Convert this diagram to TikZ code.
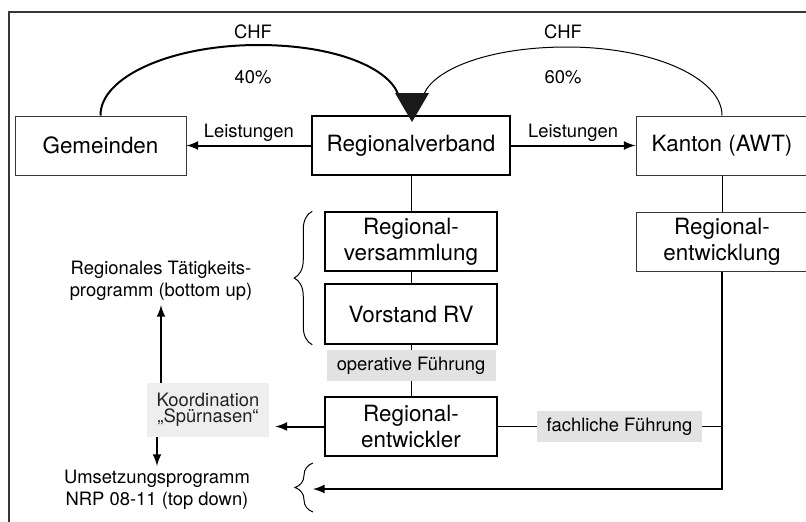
\documentclass[tikz,border=0pt]{standalone}
\usepackage{fontspec}
\setmainfont{TeX Gyre Heros}
\usepackage{tikz}
\usetikzlibrary{positioning,decorations.pathreplacing}
\tikzstyle{plan} = [x = 0.5pt, y = -0.5pt]
\definecolor{frameColor}{RGB}{55,55,55}
\definecolor{labelColor}{RGB}{226,226,226}
\definecolor{koordColor}{RGB}{238,238,238}
\definecolor{koordText}{RGB}{35,35,35}
\newcommand{\boxFont}{\fontsize{11.2}{13}\selectfont}
\newcommand{\smallFont}{\fontsize{9.2}{11}\selectfont}
\tikzstyle{boxStyle} = [draw, fill=white, align=center, inner sep=0pt, minimum width=86pt, minimum height=29.5pt, font=\boxFont]
\tikzstyle{innerBox} = [boxStyle, line width=.75pt]
\tikzstyle{outerBox} = [boxStyle, line width=.5pt, draw=frameColor]
\tikzstyle{greyLabel} = [fill=labelColor, inner sep=0pt, minimum height=15.5pt, font=\smallFont]
\tikzstyle{sideText} = [align=center, inner sep=2pt, font=\smallFont]
\tikzstyle{thinLine} = [line width=.5pt]
\tikzstyle{arrowLine} = [line width=1pt, -latex]
\tikzstyle{labelAbove} = [above, inner sep=1.5pt, font=\smallFont]
\tikzstyle{braceLine} = [line width=.5pt, decorate, decoration={brace, amplitude=9pt}]

\begin{document}
\begin{tikzpicture}[plan]
  \useasboundingbox (0,0) rectangle (806,521);
  \clip (0,0) rectangle (806,521);
  \draw[line width=1pt, frameColor] (8.5,530) -- (8.5,11.5) -- (815,11.5);

  \node[outerBox, minimum width=85.5pt] (gemeinden) at (100.5,145.5) {Gemeinden};
  \node[innerBox, minimum width=99pt] (verband) at (411,145.5) {Regionalverband};
  \node[outerBox] (kanton) at (722,145.5) {Kanton (AWT)};
  \node[innerBox] (versammlung) at (411,241.5) {Regional-\\versammlung};
  \node[innerBox, minimum height=30pt] (vorstand) at (411,314) {Vorstand RV};
  \node[greyLabel, minimum width=84.5pt] (operativ) at (411,365.5) {operative Führung};
  \node[innerBox] (entwickler) at (411,426.5) {Regional-\\entwickler};
  \node[outerBox] (entwicklung) at (722,241.5) {Regional-\\entwicklung};
  \node[greyLabel, minimum width=82.5pt] (fachlich) at (619.5,426.5) {fachliche Führung};
  \node[sideText] (taetigkeit) at (161,281) {Regionales Tätigkeits-\\programm (bottom up)};
  \node[greyLabel, fill=koordColor, text=koordText, align=center, minimum width=61pt, minimum height=27pt,
    font=\fontsize{9.2}{8}\selectfont] (koord) at (208,410) {Koordination\\„Spürnasen“};
  \node[sideText] (umsetzung) at (157,490) {Umsetzungsprogramm\\NRP 08-11 (top down)};
  \node[font=\smallFont] (chfLinks) at (253,32) {CHF};
  \node[font=\smallFont] (prozentLinks) at (253,77) {40\%};
  \node[font=\smallFont] (chfRechts) at (563,32) {CHF};
  \node[font=\smallFont] (prozentRechts) at (563,77) {60\%};

  % money flows
  \coordinate (spitze) at (412,122);
  \draw[line width=1pt] (gemeinden.north) .. controls (100,77) and (171,45) .. (258,45)
    .. controls (336,45) and (388,68) .. (398,94);
  \draw[thinLine] (kanton.north) .. controls (722,78) and (653,47) .. (567,47)
    .. controls (487,47) and (434,70) .. (424,94);
  \fill[black!90] (spitze) -- ++(-17,-29) -- ++(34,0) -- cycle;

  \draw[arrowLine] (verband) -- node[labelAbove] (leistungLinks) {Leistungen} (gemeinden);
  \draw[arrowLine] (verband) -- node[labelAbove] (leistungRechts) {Leistungen} (kanton);

  \draw[thinLine] (verband) -- (versammlung);
  \draw[thinLine] (versammlung) -- (vorstand);
  \draw[thinLine] (vorstand) -- (operativ);
  \draw[thinLine] (operativ) -- (entwickler);
  \draw[thinLine] (kanton) -- (entwicklung);
  \draw[thinLine] (entwickler) -- (fachlich);
  \draw[thinLine] (fachlich.east) -- (fachlich.east -| entwicklung.south);

  \coordinate (umsetzungEnd) at (313,489);
  \draw[arrowLine] (entwicklung.south) |- (umsetzungEnd);
  \draw[arrowLine] (entwickler.west) -- ([xshift=3pt]entwickler.west -| koord.east);
  \draw[arrowLine] (koord.north -| taetigkeit.south) -- (taetigkeit.south);
  \draw[arrowLine] (koord.south -| umsetzung.north) -- (umsetzung.north);

  % braces
  \draw[braceLine] ([xshift=-6pt]vorstand.south west) -- ([xshift=-6pt]versammlung.north west);
  \draw[braceLine] (313,512) -- (313,463);
\end{tikzpicture}
\end{document}
